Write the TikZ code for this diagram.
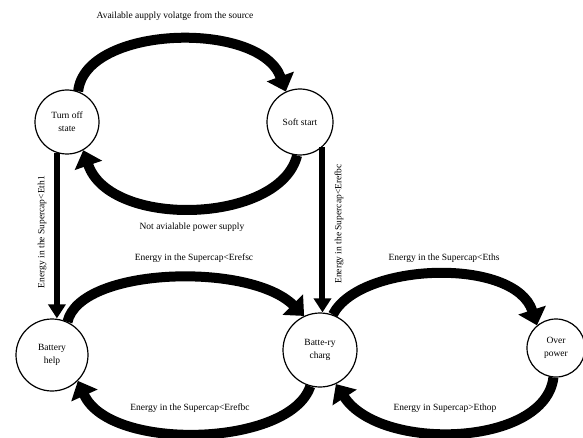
\documentclass[tikz,border=0pt]{standalone}
\usepackage{fontspec}
\setmainfont{Liberation Serif}
\usetikzlibrary{arrows.meta}

\begin{document}
\begin{tikzpicture}[x=1pt,y=1pt,
    state/.style={circle,draw,line width=1.2pt,inner sep=0pt,align=center,font=\fontsize{9.5}{13}\selectfont},
    lbl/.style={font=\fontsize{9.5}{11}\selectfont,inner sep=0pt},
    bigarrow/.style={line width=10pt,-{Triangle[length=16pt,width=28pt]}},
    vertarrow/.style={line width=6pt,-{Triangle[length=14pt,width=17pt]}}]
        \useasboundingbox (0,0) rectangle (583,437);
        \node[state,minimum size=64pt] (toff) at (67,315) {Turn off\\state};
        \node[state,minimum size=66pt] (soft) at (300,315) {Soft start};
        \node[state,minimum size=72pt] (bhelp) at (52,82) {Battery\\help};
        \node[state,minimum size=74pt] (bcharg) at (320,87) {Batte-ry\\charg};
        \node[state,minimum size=58pt] (over) at (556,89) {Over\\power};
        \draw[bigarrow](toff.70) .. controls (85,412) and (260,417) .. (soft.115);
        \draw[bigarrow](soft.265) .. controls (280,213) and (110,208) .. (toff.300);
        \draw[bigarrow](bhelp.65) .. controls (80,170) and (250,175) .. (bcharg.115);
        \draw[bigarrow](bcharg.255) .. controls (290,-10) and (110,-15) .. (bhelp.315);
        \draw[bigarrow](bcharg.70) .. controls (360,175) and (515,180) .. (over.130);
        \draw[bigarrow](over.265) .. controls (545,-10) and (380,-15) .. (bcharg.295);
        \draw[vertarrow](toff.252)--(toff.252 |- bhelp.north);
        \draw[vertarrow](soft.312)--(soft.312 |- bcharg.north);
        \node[lbl] (ltop) at (175,421) {Available aupply volatge from the source};
        \node[lbl] (lnot) at (192,210) {Not avialable power supply};
        \node[lbl] (lsc) at (194,179) {Energy in the Supercap<Erefsc};
        \node[lbl] (lths) at (444,179) {Energy in the Supercap<Eths};
        \node[lbl] (lbc) at (190,29) {Energy in the Supercap<Erefbc};
        \node[lbl] (lop) at (445,29) {Energy in Supercap>Ethop};
        \node[lbl,rotate=90] (leth) at (42,205) {Energy in the Supercap<Eth1};
        \node[lbl,rotate=90] (lref) at (339,213) {Energy in the Supercap<Erefbc};
    \end{tikzpicture}
\end{document}
